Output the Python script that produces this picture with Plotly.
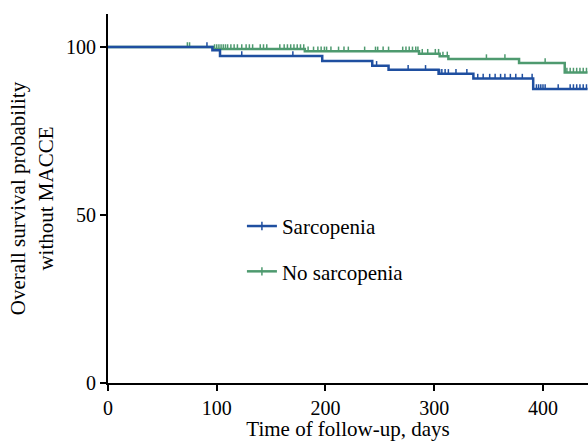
import numpy as np
import plotly.graph_objects as go

# Kaplan-Meier step data (days, survival %)
sarc_times = [0, 96, 103, 197, 243, 258, 304, 336, 391, 441]
sarc_surv = [100, 99.0, 97.3, 95.8, 94.4, 93.2, 92.0, 90.6, 87.5, 87.5]
sarc_censor = [91, 123, 170, 247, 276, 292, 305, 307, 310, 313, 320, 330,
               340, 345, 351, 356, 361, 365, 370, 375, 381, 390,
               394, 396, 398, 400, 402, 414, 425, 428, 431, 434, 437, 440]

nosarc_times = [0, 97, 181, 286, 305, 313, 378, 420, 441]
nosarc_surv = [100, 99.4, 98.7, 98.0, 97.2, 96.4, 95.2, 92.4, 92.4]
nosarc_censor = [73, 75, 98, 100, 102, 104, 106, 108, 110, 113, 116, 119, 123,
                 127, 130, 133, 140, 143, 146, 158, 162, 165, 168, 171, 174,
                 177, 180, 184, 189, 193, 196, 199, 201, 205, 212, 217, 221,
                 236, 246, 248, 253, 258, 271, 274, 277, 280, 283, 285, 289,
                 294, 301, 304, 308, 312, 348, 365, 402, 422, 425, 428, 431,
                 434, 437, 440]

x_ticks = [0, 100, 200, 300, 400]
y_ticks = [0, 50, 100]

BLUE = "#1f4fa0"
GREEN = "#4e9a6f"
FONT = "Liberation Serif, Times New Roman, serif"
TICK_H = 1.4  # censor tick height (y units)


def step_value(times, surv, t):
    idx = np.searchsorted(np.array(times), t, side="right") - 1
    return surv[max(idx, 0)]


fig = go.Figure()
for name, times, surv, cens, col in [
    ("No sarcopenia", nosarc_times, nosarc_surv, nosarc_censor, GREEN),
    ("Sarcopenia", sarc_times, sarc_surv, sarc_censor, BLUE),
]:
    fig.add_trace(go.Scatter(
        x=times, y=surv, mode="lines", line=dict(color=col, width=2.5, shape="hv"),
        showlegend=False, hoverinfo="skip"))
    fig.add_trace(go.Scatter(
        x=cens, y=[step_value(times, surv, t) for t in cens], mode="markers",
        marker=dict(size=1, color=col, opacity=0),
        error_y=dict(type="data", symmetric=False, array=[TICK_H] * len(cens),
                     arrayminus=[0] * len(cens), width=0, thickness=1.5, color=col),
        showlegend=False, hoverinfo="skip"))

for name, col, grp in [("Sarcopenia", BLUE, "a"), ("No sarcopenia", GREEN, "b")]:
    fig.add_trace(go.Scatter(
        x=[None], y=[None], mode="lines+markers", name=name, legendgroup=grp,
        line=dict(color=col, width=2.5),
        marker=dict(symbol="line-ns", size=6, line=dict(color=col, width=1.5))))

fig.update_layout(
    width=588, height=441,
    margin=dict(l=108, r=0, t=14, b=58),
    paper_bgcolor="white", plot_bgcolor="white",
    font=dict(family=FONT, size=21, color="black"),
    legend=dict(x=0.279, y=0.48, xanchor="left", yanchor="top",
                bgcolor="rgba(0,0,0,0)", itemwidth=30,
                traceorder="grouped", tracegroupgap=15,
                font=dict(family=FONT, size=21)),
    xaxis=dict(range=[0, 441.4], tickvals=x_ticks, showline=True, linecolor="black",
               linewidth=2, ticks="outside", ticklen=6, tickwidth=2, tickcolor="black",
               showgrid=False, zeroline=False, tickfont=dict(family=FONT, size=20),
               title=dict(text="Time of follow-up, days", standoff=7,
                          font=dict(family=FONT, size=21))),
    yaxis=dict(range=[0, 109.8], tickvals=y_ticks, showline=True, linecolor="black",
               linewidth=2, ticks="outside", ticklen=6, tickwidth=2, tickcolor="black",
               showgrid=False, zeroline=False, tickfont=dict(family=FONT, size=20),
               title=dict(text="Overall survival probability<br>without MACCE", standoff=7,
                          font=dict(family=FONT, size=21))),
)

fig.write_html(
    "out.html",
    config={"displayModeBar": False},
    post_script="document.body.style.margin='0';document.body.style.overflow='hidden';",
)
